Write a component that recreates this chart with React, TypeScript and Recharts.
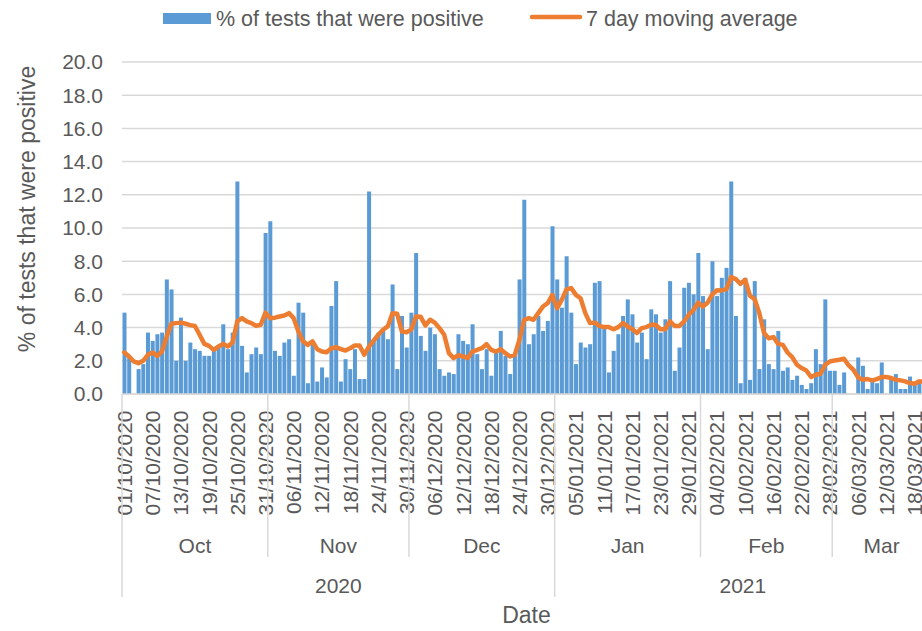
import React from "react";
import { ComposedChart, Bar, Line, XAxis, YAxis, CartesianGrid, Legend } from "recharts";

// one category per day, 01/10/2020 .. 21/03/2021
const dayCount = 172;
const dates: string[] = Array.from({ length: dayCount }, (_, i) => {
  const d = new Date(2020, 9, 1 + i);
  const dd = String(d.getDate()).padStart(2, "0");
  const mm = String(d.getMonth() + 1).padStart(2, "0");
  return `${dd}/${mm}/${d.getFullYear()}`;
});

const monthNames = ["Jan", "Feb", "Mar", "Apr", "May", "Jun", "Jul", "Aug", "Sep", "Oct", "Nov", "Dec"];

// % of tests that were positive (daily)
const positive = [
  4.9, 2.2, 0, 1.5, 1.8, 3.7, 3.2, 3.6, 3.7, 6.9,
  6.3, 2.0, 4.6, 2.0, 3.1, 2.7, 2.6, 2.3, 2.3, 2.6,
  2.9, 4.2, 2.7, 3.7, 12.8, 2.9, 1.3, 2.4, 2.8, 2.4,
  9.7, 10.4, 2.6, 2.3, 3.1, 3.3, 1.1, 5.5, 4.9, 0.65,
  3.2, 0.75, 1.6, 1.0, 5.3, 6.8, 0.75, 2.1, 1.5, 2.7,
  0.9, 0.9, 12.2, 3.2, 3.7, 3.9, 3.3, 6.6, 1.5, 4.7,
  2.8, 4.9, 8.5, 3.5, 2.6, 4.0, 3.6, 1.5, 1.1, 1.3,
  1.2, 3.6, 3.2, 3.0, 4.2, 2.4, 1.5, 2.7, 1.1, 2.5,
  3.8, 2.3, 1.2, 2.3, 6.9, 11.7, 3.0, 3.6, 4.7, 3.8,
  4.4, 10.1, 6.9, 5.2, 8.3, 4.9, 1.8, 3.1, 2.8, 3.0,
  6.7, 6.8, 4.0, 1.3, 2.6, 3.6, 4.7, 5.7, 4.8, 3.1,
  3.7, 2.1, 5.1, 4.8, 3.7, 4.5, 6.8, 1.4, 2.8, 6.4,
  6.7, 6.0, 8.5, 5.9, 2.7, 8.0, 5.9, 7.0, 7.6, 12.8,
  4.7, 0.65, 7.0, 0.85, 6.8, 1.5, 4.5, 1.8, 1.5, 3.8,
  1.4, 1.6, 0.85, 1.1, 0.55, 0.3, 0.65, 2.7, 1.8, 5.7,
  1.4, 1.4, 0.55, 1.3, 0, 0, 2.2, 1.7, 0.3, 0.85,
  0.65, 1.9, 0, 0.85, 1.2, 0.3, 0.3, 1.05, 0.55, 0.85,
  0.7, 0.9,
];

// 7 day moving average
const movingAverage = [
  2.5, 2.26, 1.96, 1.86, 2.0, 2.36, 2.5, 2.3, 2.56, 3.47,
  4.23, 4.27, 4.3, 4.23, 4.15, 4.1, 3.57, 3.02, 2.9, 2.66,
  2.86, 3.02, 2.86, 3.1, 4.37, 4.57, 4.37, 4.27, 4.1, 4.17,
  4.9, 4.57, 4.6, 4.67, 4.73, 4.87, 4.57, 3.77, 3.17, 2.96,
  3.17, 2.7, 2.56, 2.52, 2.76, 2.82, 2.7, 2.62, 2.76, 2.92,
  2.92, 2.36, 2.86, 3.22, 3.57, 3.87, 4.07, 4.87, 4.83, 3.77,
  3.72, 3.88, 4.67, 4.65, 4.13, 4.47, 4.3, 3.97, 3.57, 2.46,
  2.16, 2.34, 2.26, 2.16, 2.56, 2.66, 2.76, 3.0, 2.66, 2.56,
  2.7, 2.46, 2.26, 2.36, 3.27, 4.47, 4.57, 4.47, 4.87, 5.27,
  5.47, 5.97, 5.17, 5.67, 6.3, 6.38, 5.97, 5.77, 4.87, 4.27,
  4.3, 4.1, 4.03, 4.03, 3.9, 4.03, 4.27, 4.07, 3.9, 3.67,
  3.97, 4.03, 4.17, 4.17, 3.9, 3.9, 4.37, 4.1, 4.1, 4.37,
  4.77, 5.07, 5.5, 5.27, 5.5, 6.0, 6.25, 6.24, 6.32, 7.04,
  6.92, 6.64, 6.88, 5.92, 5.72, 4.87, 3.67, 3.36, 3.43, 3.02,
  2.96, 2.5, 2.22, 1.76, 1.56, 1.42, 1.02, 1.16, 1.22, 1.76,
  1.96, 2.02, 2.06, 2.12, 1.72, 1.46, 1.0, 0.86, 0.9, 0.82,
  0.9, 1.02, 1.02, 0.96, 0.86, 0.82, 0.76, 0.66, 0.62, 0.76,
  0.75, 0.8,
];

const yTicks = [0, 2, 4, 6, 8, 10, 12, 14, 16, 18, 20];

const data = dates.map((date, i) => ({
  date,
  positive: positive[i],
  average: movingAverage[i],
}));

// groups for the month / year rows of the axis
type Group = { label: string; start: number; count: number };
function groupBy(keyOf: (d: string) => string, labelOf: (d: string) => string): Group[] {
  const out: Group[] = [];
  dates.forEach((d, i) => {
    const last = out[out.length - 1];
    if (last && keyOf(dates[last.start]) === keyOf(d)) last.count++;
    else out.push({ label: labelOf(d), start: i, count: 1 });
  });
  return out;
}
const months = groupBy((d) => d.slice(3), (d) => monthNames[Number(d.slice(3, 5)) - 1]);
const years = groupBy((d) => d.slice(6), (d) => d.slice(6));

const CHART_W = 941;
const CHART_H = 631;
const Y_AXIS_W = 122;
const MARGIN_R = 10;
const PLOT_W = CHART_W - Y_AXIS_W - MARGIN_R;
const TEXT = "#595959";
const RULE = "#d9d9d9";

function DateTick(props: any) {
  const { x, y, payload } = props;
  const i = dates.indexOf(payload.value);
  const band = PLOT_W / dayCount;
  const left = x - band / 2;
  const parts: React.ReactNode[] = [];
  if (i % 6 === 0) {
    const tx = x + 7.5;
    const ty = y + 16.5;
    parts.push(
      <text key="d" x={tx} y={ty} transform={`rotate(-90 ${tx} ${ty})`} textAnchor="end" fontSize={21} fill={TEXT}>
        {payload.value}
      </text>
    );
  }
  const m = months.find((g) => g.start === i);
  const yr = years.find((g) => g.start === i);
  if (m) {
    parts.push(<line key="ml" x1={left} x2={left} y1={y} y2={y + (yr ? 203 : 163)} stroke={RULE} strokeWidth={1.5} />);
    parts.push(
      <text key="m" x={left + (m.count * band) / 2} y={y + 159} textAnchor="middle" fontSize={21} fill={TEXT}>
        {m.label}
      </text>
    );
  }
  if (yr) {
    parts.push(
      <text key="y" x={left + (yr.count * band) / 2} y={y + 199} textAnchor="middle" fontSize={21} fill={TEXT}>
        {yr.label}
      </text>
    );
  }
  if (i === dayCount - 1) {
    parts.push(<line key="end" x1={x + band / 2} x2={x + band / 2} y1={y} y2={y + 203} stroke={RULE} strokeWidth={1.5} />);
  }
  return <g>{parts}</g>;
}

function LegendBox() {
  return (
    <svg width={CHART_W} height={62} style={{ display: "block" }}>
      <rect x={163} y={13} width={48} height={11} fill="#5B9BD5" />
      <text x={216} y={26} fontSize={21.5} fill={TEXT}>% of tests that were positive</text>
      <line x1={532} x2={580} y1={17} y2={17} stroke="#ED7D31" strokeWidth={4.5} strokeLinecap="round" />
      <text x={586} y={26} fontSize={21.5} fill={TEXT}>7 day moving average</text>
    </svg>
  );
}

export default function App() {
  return (
    <div
      style={{
        position: "absolute",
        left: 0,
        top: 0,
        width: 922,
        height: CHART_H,
        overflow: "hidden",
        background: "#fff",
        fontFamily: "'Liberation Sans', Arial, sans-serif",
      }}
    >
      <ComposedChart width={CHART_W} height={CHART_H} data={data} margin={{ top: 0, right: MARGIN_R, bottom: 0, left: 0 }} barCategoryGap={0.5}>
        <Legend verticalAlign="top" align="left" content={() => <LegendBox />} wrapperStyle={{ left: 0, top: 0, width: CHART_W, height: 62 }} />
        <CartesianGrid vertical={false} stroke={RULE} strokeWidth={1.5} />
        <XAxis
          dataKey="date"
          interval={0}
          height={237}
          tickSize={0}
          tickMargin={0}
          tickLine={false}
          axisLine={{ stroke: RULE, strokeWidth: 1.5 }}
          tick={<DateTick />}
          label={(p: any) => {
            const vb = p.viewBox || {};
            return (
              <text x={(vb.x ?? Y_AXIS_W) + (vb.width ?? PLOT_W) / 2} y={623} textAnchor="middle" fontSize={23} fill={TEXT}>
                Date
              </text>
            );
          }}
        />
        <YAxis
          width={Y_AXIS_W}
          domain={[0, 20]}
          ticks={yTicks}
          interval={0}
          tickFormatter={(v: number) => v.toFixed(1)}
          axisLine={false}
          tickLine={false}
          tickMargin={13}
          tick={{ fontSize: 21, fill: TEXT }}
          label={() => (
            <text x={35} y={209} transform="rotate(-90 35 209)" textAnchor="middle" fontSize={23} fill={TEXT}>
              % of tests that were positive
            </text>
          )}
        />
        <Bar dataKey="positive" name="% of tests that were positive" fill="#5B9BD5" isAnimationActive={false} />
        <Line
          dataKey="average"
          name="7 day moving average"
          type="linear"
          stroke="#ED7D31"
          strokeWidth={4.5}
          strokeLinejoin="round"
          strokeLinecap="round"
          dot={false}
          activeDot={false}
          isAnimationActive={false}
        />
      </ComposedChart>
    </div>
  );
}
